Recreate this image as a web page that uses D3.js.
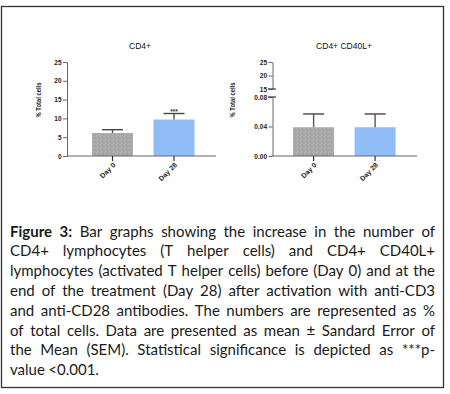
<!DOCTYPE html>
<html>
<head>
<meta charset="utf-8">
<script src="https://cdn.jsdelivr.net/npm/d3@7"></script>
<style>
  body { margin: 0; background: #fff; }
  svg { display: block; }
</style>
</head>
<body>
<div class="svg"></div>
<script>
// values
var categories = ['Day 0', 'Day 28'];
var cd4Mean = [6.1, 9.7];
var cd4Sem = [0.9, 1.6];
var cd40Mean = [0.039, 0.039];
var cd40Sem = [0.018, 0.018];
var cd4Ticks = [0, 5, 10, 15, 20, 25];
var cd40LowTicks = [0, 0.04, 0.08];
var cd40HighTicks = [15, 20, 25];
var barColors = ['url(#speck)', '#90bdf6'];

var captionLines = [
  'Figure 3: Bar graphs showing the increase in the number of',
  'CD4+ lymphocytes (T helper cells) and CD4+ CD40L+',
  'lymphocytes (activated T helper cells) before (Day 0) and at the',
  'end of the treatment (Day 28) after activation with anti-CD3',
  'and anti-CD28 antibodies. The numbers are represented as %',
  'of total cells. Data are presented as mean \u00b1 Sandard Error of',
  'the Mean (SEM). Statistical significance is depicted as ***p-',
  'value <0.001.'
];
var boldWords = 2; // "Figure 3:" on the first line

var W = 450, H = 394;
var svg = d3.select('div.svg').append('svg').attr('width', W).attr('height', H);

// grey speckled fill like the original print
var pat = svg.append('defs').append('pattern')
  .attr('id', 'speck').attr('width', 4).attr('height', 4)
  .attr('patternUnits', 'userSpaceOnUse');
pat.append('rect').attr('width', 4).attr('height', 4).attr('fill', '#a9a9a9');
pat.append('rect').attr('x', 0).attr('y', 0).attr('width', 1).attr('height', 1).attr('fill', '#b6b6b6');
pat.append('rect').attr('x', 2).attr('y', 1).attr('width', 1).attr('height', 1).attr('fill', '#a0a0a0');
pat.append('rect').attr('x', 1).attr('y', 3).attr('width', 1).attr('height', 1).attr('fill', '#b2b2b2');
pat.append('rect').attr('x', 3).attr('y', 2).attr('width', 1).attr('height', 1).attr('fill', '#a2a2a2');

// outer frame
svg.append('rect').attr('x', 1.5).attr('y', 6.5).attr('width', 442).attr('height', 381)
  .attr('fill', 'none').attr('stroke', '#333').attr('stroke-width', 1.3);

var axisColor = '#666';
var chartFont = 'Liberation Sans, Arial, sans-serif';

function drawPanel(p) {
  var g = svg.append('g');
  var x = d3.scaleBand().domain(categories).range([p.x0, p.x0 + 151.7])
    .paddingInner(1 / 3).paddingOuter(0.4);

  // title
  g.append('text').attr('x', p.titleX).attr('y', 48.5)
    .attr('text-anchor', 'middle').attr('font-family', chartFont)
    .attr('font-size', 8.5).attr('fill', '#111')
    .text(p.title);

  // y label
  g.append('text')
    .attr('transform', 'translate(' + p.labelX + ',100) rotate(-90)')
    .attr('text-anchor', 'middle').attr('font-family', chartFont)
    .attr('font-size', 7).attr('font-weight', 'bold').attr('fill', '#222')
    .attr('textLength', 35).attr('lengthAdjust', 'spacingAndGlyphs')
    .text('% Total cells');

  // y axes (one or two segments)
  p.segments.forEach(function (s) {
    var ax = g.append('g').attr('transform', 'translate(' + p.axisX + ',0)')
      .call(d3.axisLeft(s.y).tickValues(s.ticks).tickSize(4).tickPadding(1.5)
        .tickFormat(s.format).tickSizeOuter(0));
    ax.select('.domain').attr('stroke', axisColor);
    ax.selectAll('.tick line').attr('stroke', axisColor);
    ax.selectAll('.tick text').attr('font-family', chartFont).attr('font-size', 6.5)
      .attr('font-weight', 'bold').attr('fill', '#222');
    if (s.breakAt !== undefined) {
      g.append('line').attr('x1', p.axisX - 4.5).attr('x2', p.axisX + 3.5)
        .attr('y1', s.y(s.breakAt)).attr('y2', s.y(s.breakAt))
        .attr('stroke', '#333').attr('stroke-width', 1.2);
    }
  });
  var y = p.segments[0].y;

  // bars
  g.selectAll('rect.bar').data(p.mean).enter().append('rect')
    .attr('class', 'bar')
    .attr('x', function (d, i) { return x(categories[i]); })
    .attr('y', function (d) { return y(d); })
    .attr('width', x.bandwidth())
    .attr('height', function (d) { return y(0) - y(d); })
    .attr('fill', function (d, i) { return barColors[i]; });

  // error bars (upper only)
  p.mean.forEach(function (m, i) {
    var cx = x(categories[i]) + x.bandwidth() / 2;
    var top = y(m + p.sem[i]);
    g.append('line').attr('x1', cx).attr('x2', cx).attr('y1', y(m)).attr('y2', top)
      .attr('stroke', '#555').attr('stroke-width', 1.4);
    g.append('line').attr('x1', cx - 10.5).attr('x2', cx + 10.5).attr('y1', top).attr('y2', top)
      .attr('stroke', '#444').attr('stroke-width', 1.4);
    if (p.stars && p.stars[i]) {
      g.append('text').attr('x', cx).attr('y', top + 0.5).attr('text-anchor', 'middle')
        .attr('font-family', chartFont).attr('font-size', 6.5).attr('font-weight', 'bold')
        .attr('fill', '#333').text(p.stars[i]);
    }
  });

  // x axis
  g.append('line').attr('x1', p.axisX).attr('x2', p.xEnd).attr('y1', y(0)).attr('y2', y(0))
    .attr('stroke', axisColor).attr('stroke-width', 1.2);
  categories.forEach(function (c) {
    var cx = x(c) + x.bandwidth() / 2;
    g.append('line').attr('x1', cx).attr('x2', cx).attr('y1', y(0)).attr('y2', y(0) + 5)
      .attr('stroke', '#333').attr('stroke-width', 1.2);
    g.append('text')
      .attr('transform', 'translate(' + (cx + 3.5) + ',' + (y(0) + 9.5) + ') rotate(-45)')
      .attr('text-anchor', 'end').attr('font-family', chartFont).attr('font-size', 7)
      .attr('font-weight', 'bold').attr('fill', '#222').text(c);
  });
}

drawPanel({
  title: 'CD4+', titleX: 140, labelX: 40.5,
  x0: 67.4, axisX: 67, xEnd: 216,
  mean: cd4Mean, sem: cd4Sem, stars: ['', '***'],
  segments: [
    { y: d3.scaleLinear().domain([0, 25]).range([156, 62]), ticks: cd4Ticks, format: d3.format('d') }
  ]
});

drawPanel({
  title: 'CD4+ CD40L+', titleX: 344, labelX: 235,
  x0: 268.5, axisX: 272.5, xEnd: 417,
  mean: cd40Mean, sem: cd40Sem,
  segments: [
    { y: d3.scaleLinear().domain([0, 0.08]).range([156, 97]), ticks: cd40LowTicks, format: d3.format('.2f'), breakAt: 0.08 },
    { y: d3.scaleLinear().domain([15, 25]).range([89, 62]), ticks: cd40HighTicks, format: d3.format('d'), breakAt: 15 }
  ]
});

// caption, justified line by line
var capLeft = 10, capRight = 435, capTop = 236.5, capStep = 19.8;
var capFont = 'Lato, "Open Sans", sans-serif';
var cap = svg.append('g').attr('font-family', capFont).attr('fill', '#1a1a1a');

function layoutCaption(fs) {
  cap.selectAll('*').remove();
  var worst = 0;
  captionLines.forEach(function (line, li) {
    var words = line.split(' ');
    var nodes = words.map(function (w, wi) {
      return cap.append('text').attr('font-size', fs)
        .attr('font-weight', li === 0 && wi < boldWords ? 'bold' : 'normal')
        .attr('y', capTop + li * capStep).text(w);
    });
    var widths = nodes.map(function (n) { return n.node().getComputedTextLength(); });
    var sum = d3.sum(widths);
    var last = li === captionLines.length - 1;
    var gap = last ? fs * 0.23 : (capRight - capLeft - sum) / (words.length - 1);
    if (!last) worst = Math.max(worst, (sum + (words.length - 1) * fs * 0.2) / (capRight - capLeft));
    var cx = capLeft;
    nodes.forEach(function (n, i) { n.attr('x', cx); cx += widths[i] + gap; });
  });
  return worst;
}

var over = layoutCaption(15);
if (over > 1) layoutCaption(15 / over);
</script>
</body>
</html>
